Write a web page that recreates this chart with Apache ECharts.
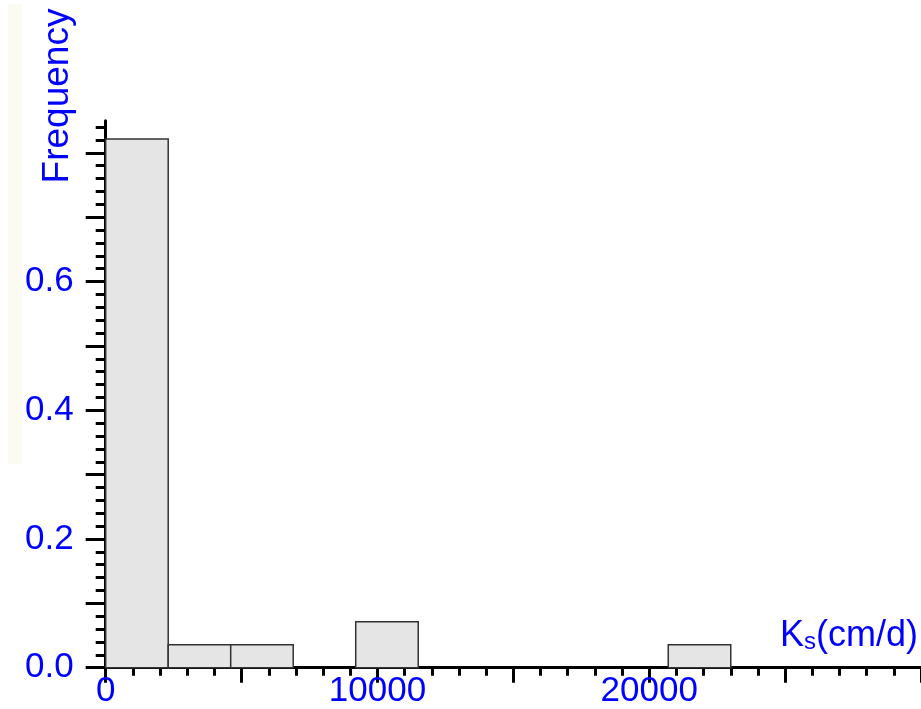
<!DOCTYPE html>
<html>
<head>
<meta charset="utf-8">
<script src="https://cdn.jsdelivr.net/npm/echarts@6/dist/echarts.min.js"></script>
<style>html,body{margin:0;padding:0;background:#fff;}#c{width:921px;height:709px;}</style>
</head>
<body>
<div id="c"></div>
<script>
// Histogram bins of Ks (cm/d) and their relative frequencies
const binStart = [0, 2300, 4600, 9200, 20700];
const binEnd = [2300, 4600, 6900, 11500, 23000];
const freq = [0.8214, 0.0357, 0.0357, 0.0714, 0.0357];

const xLabelValues = [0, 10000, 20000];
const yLabelValues = [0, 0.2, 0.4, 0.6];
const yMajorTicks = [0, 0.1, 0.2, 0.3, 0.4, 0.5, 0.6, 0.7, 0.8];
const yMinorTicks = [0.02,0.04,0.06,0.08,0.12,0.14,0.16,0.18,0.22,0.24,0.26,0.28,0.32,0.34,0.36,0.38,0.42,0.44,0.46,0.48,0.52,0.54,0.56,0.58,0.62,0.64,0.66,0.68,0.72,0.74,0.76,0.78,0.82,0.84];

const BLUE = '#0000ff';
const FONT = 'Liberation Sans, Arial, sans-serif';
const chart = echarts.init(document.getElementById('c'), null, {renderer: 'canvas'});
const data = binStart.map((s, i) => [s, binEnd[i], freq[i]]);

chart.setOption({
  animation: false,
  backgroundColor: '#ffffff',
  grid: {left: 105.7, top: 120.7, right: 0, bottom: 41.3, containLabel: false, outerBoundsMode: 'none'},
  graphic: [
    {type: 'rect', left: 8, top: 4, z: -10, shape: {width: 14, height: 460}, style: {fill: '#fbfbf2'}},
    {type: 'text', x: 58, y: 96, rotation: Math.PI / 2, z: 10,
      style: {text: 'Frequency', fill: BLUE, fontSize: 37, fontFamily: FONT, align: 'center', verticalAlign: 'middle'}},
    {type: 'text', x: 780, y: 635, z: 10,
      style: {text: '{a|K}{b|s}{a|(cm/d)}', fill: BLUE, fontFamily: FONT, align: 'left', verticalAlign: 'middle',
        rich: {a: {fontSize: 36, fontFamily: FONT, fill: BLUE, verticalAlign: 'bottom', lineHeight: 38},
               b: {fontSize: 24, fontFamily: FONT, fill: BLUE, verticalAlign: 'bottom', lineHeight: 30}}}}
  ],
  xAxis: {
    type: 'value', min: 0, max: 30000, interval: 5000,
    axisLine: {show: true, onZero: false, lineStyle: {color: '#000', width: 3}},
    axisTick: {show: true, inside: false, length: 15, lineStyle: {color: '#000', width: 3}},
    minorTick: {show: true, splitNumber: 5, length: 8, lineStyle: {color: '#000', width: 3}},
    splitLine: {show: false}, minorSplitLine: {show: false},
    axisLabel: {show: true, customValues: xLabelValues, margin: 6, color: BLUE, fontSize: 35, fontFamily: FONT,
      formatter: v => String(Math.round(v))}
  },
  yAxis: [
    {
      type: 'value', min: 0, max: 0.85, interval: 0.1, position: 'left',
      axisLine: {show: true, onZero: false, lineStyle: {color: '#000', width: 3}},
      axisTick: {show: true, customValues: yMajorTicks, inside: false, length: 20, lineStyle: {color: '#000', width: 3}},
      splitLine: {show: false},
      axisLabel: {show: true, customValues: yLabelValues, margin: 32, color: BLUE, fontSize: 35, fontFamily: FONT,
        padding: [0, 0, 6, 0], formatter: v => Number(v).toFixed(1)}
    },
    {
      type: 'value', min: 0, max: 0.85, interval: 0.1, position: 'left', offset: 0,
      axisLine: {show: false},
      axisTick: {show: true, customValues: yMinorTicks, inside: false, length: 10, lineStyle: {color: '#000', width: 3}},
      splitLine: {show: false},
      axisLabel: {show: false}
    }
  ],
  series: [{
    type: 'custom',
    xAxisIndex: 0, yAxisIndex: 0,
    encode: {x: [0, 1], y: 2},
    data: data,
    renderItem: function (params, api) {
      const p0 = api.coord([api.value(0), api.value(2)]);
      const p1 = api.coord([api.value(1), 0]);
      return {
        type: 'rect',
        shape: {x: p0[0], y: p0[1], width: p1[0] - p0[0], height: p1[1] - p0[1]},
        style: {fill: '#e5e5e5', stroke: '#333333', lineWidth: 1.5}
      };
    }
  }]
});
</script>
</body>
</html>
